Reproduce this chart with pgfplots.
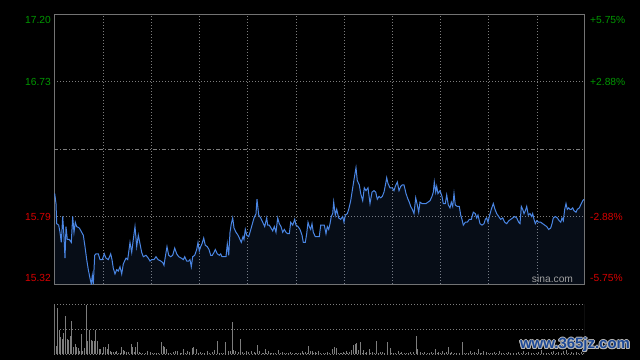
\documentclass[border=0pt]{standalone}
\usepackage{fontspec}
\setmainfont{Liberation Sans}
\usepackage{pgfplots}
\usepackage{pgfplotstable}
\pgfplotsset{compat=1.18}
\definecolor{gridc}{RGB}{125,125,125}
\definecolor{framec}{RGB}{115,115,115}
\definecolor{linec}{RGB}{74,134,228}
\definecolor{upc}{RGB}{0,150,0}
\definecolor{downc}{RGB}{215,0,0}
\definecolor{volc}{RGB}{125,125,125}
\definecolor{wmc}{RGB}{28,72,150}

\pgfplotstableread{
x y
54.7 15.95
56 15.88
56.7 15.74
58.7 15.73
60 15.68
61.3 15.61
62.7 15.79
64 15.65
65 15.50
66 15.72
67.3 15.63
69.3 15.63
71.3 15.61
72.7 15.79
74 15.68
75.3 15.75
76.7 15.72
79.3 15.71
81.7 15.68
83.3 15.66
85 15.58
86.7 15.49
88.3 15.42
90 15.36
91.3 15.32
92.3 15.38
93.3 15.32
94.7 15.52
96 15.53
98.3 15.53
100 15.49
102.3 15.49
104.3 15.53
106 15.50
108.3 15.49
110.7 15.53
112 15.49
113.3 15.43
115 15.39
116.7 15.42
118.3 15.41
120 15.44
121.7 15.39
123.3 15.46
126 15.50
127.7 15.49
130 15.61
131.7 15.54
133.3 15.63
135 15.72
136.7 15.58
138.3 15.66
140 15.60
141.7 15.54
143.3 15.51
146 15.52
148.3 15.50
150 15.48
151.7 15.49
154 15.49
156 15.51
158 15.49
160.7 15.48
162.7 15.47
164 15.45
165.3 15.51
167 15.58
168.7 15.52
170.7 15.51
172.7 15.52
174.7 15.57
176.7 15.53
178.7 15.51
181.3 15.50
183.3 15.49
184.7 15.51
186.7 15.48
188.7 15.48
190 15.49
191.3 15.44
192.7 15.51
194.7 15.52
196.7 15.56
198 15.61
199.3 15.55
200.7 15.58
202 15.60
203.7 15.64
205.3 15.59
207.3 15.58
209 15.56
210.7 15.52
212.3 15.52
214 15.54
215.3 15.56
217.3 15.53
219.3 15.52
220.7 15.53
222 15.51
224.7 15.51
226 15.51
227.3 15.60
228.7 15.52
230 15.68
231.3 15.74
232.7 15.78
234 15.71
236 15.68
238 15.66
240 15.63
241.3 15.61
243 15.65
244 15.63
245.3 15.70
246.7 15.66
248.7 15.65
250 15.68
252 15.73
254 15.78
256 15.81
257 15.91
258.7 15.80
260.7 15.78
262.7 15.75
264.7 15.72
266.7 15.78
267.7 15.73
269.3 15.73
271 15.71
272.7 15.69
274.3 15.72
276 15.68
277.7 15.78
279.3 15.74
281 15.72
282.7 15.68
284.3 15.70
286 15.68
287.7 15.67
289.3 15.67
290.7 15.75
292.7 15.73
294.7 15.77
296 15.73
298 15.72
300 15.70
302 15.66
303.3 15.61
305.3 15.61
306.7 15.67
308 15.75
309.3 15.72
310.7 15.70
312 15.74
313.3 15.68
315.3 15.65
317.7 15.65
319.3 15.65
320.7 15.73
322.7 15.73
324.3 15.73
326 15.67
327.3 15.72
328.7 15.70
330 15.74
331.3 15.79
332.7 15.81
333.7 15.89
335.3 15.80
336.7 15.84
338.7 15.78
340.7 15.77
342.7 15.79
344 15.75
345.3 15.80
347.3 15.81
348.7 15.84
350.7 15.90
352.7 15.99
354.3 16.06
356 16.13
357.3 16.04
359.3 16.01
360.7 15.95
362.7 15.90
364.3 15.99
366 15.97
368 15.99
370 15.88
372 15.96
374 15.97
375.7 15.96
377.3 15.91
379 15.93
380.7 15.92
382.3 15.93
384 15.96
385.7 16.02
386.7 16.06
388 16.02
390 15.99
392.3 15.99
394 15.97
395.3 16.00
397.3 16.03
399 15.97
400.7 16.00
402.3 16.01
404 16.01
406 15.95
408 15.91
409.3 15.89
410.7 15.86
412.3 15.84
414 15.81
415.7 15.92
417.3 15.87
418.7 15.82
420 15.89
422 15.88
424 15.88
426 15.88
428 15.89
430 15.90
432 15.93
433.3 15.96
434.3 16.03
435.7 15.96
436.7 16.00
438 15.95
440 15.97
442 15.93
443.3 15.88
445.3 15.88
446.7 15.94
448.3 15.87
450 15.85
451.3 15.89
452.7 15.86
454 15.95
455.3 15.87
457.3 15.86
459.3 15.86
460.7 15.80
462 15.77
463.3 15.73
465.3 15.75
467.3 15.75
469.3 15.77
471.3 15.77
473.3 15.82
475.3 15.81
476.7 15.78
478 15.80
480 15.74
482 15.73
484 15.74
485.3 15.77
486.7 15.78
488 15.75
489.3 15.79
491.3 15.84
493.3 15.88
495 15.84
496.7 15.81
498.7 15.79
500.7 15.77
502.7 15.78
504.7 15.75
506.7 15.74
508.7 15.76
510.7 15.77
512.7 15.78
514.7 15.79
516.7 15.78
518.7 15.75
520 15.74
521.3 15.86
522.7 15.84
524 15.81
525.3 15.83
526.7 15.86
528.3 15.80
530 15.81
531.7 15.79
532.7 15.81
534 15.77
535.3 15.74
536.7 15.76
538.7 15.75
540.7 15.75
542.7 15.74
544.7 15.73
546.7 15.72
548.7 15.70
550.7 15.71
552 15.74
553.3 15.78
555.3 15.79
557.3 15.78
559.3 15.76
560.7 15.75
562 15.78
563.3 15.76
564.7 15.84
566 15.88
567.3 15.84
568.7 15.85
570 15.84
571.3 15.84
572.7 15.85
574 15.83
576 15.82
577.3 15.84
579.3 15.85
581.3 15.88
582.7 15.90
584 15.91
}\price

\pgfplotstableread{
x v
54.7 25
56 8
57.3 46
59.3 24
60.3 17.6
62.3 15
63.3 21
65.3 38
67.3 15
68.7 14
70.3 18
71.3 33
73.3 7.6
75.3 10
76.7 7
78.3 6
79.3 3.6
81.3 20
82.3 3.6
84.3 6
86.3 49
87.3 13.6
89.3 24
91.3 14
92.7 13
94.3 13
95.7 24
97.3 13
99.3 5
100.7 5
102 1.5
103.3 7.6
105.7 7
107.3 5
108.3 10
110 3.6
111.3 2.6
113.3 2.6
115.3 2.6
116.7 3.6
118.7 1.3
120 1
121.3 7
123.3 4.3
124.3 3.6
126.7 2
128.7 2.3
131.3 10
132.7 7
134.7 2.6
135.7 7.6
137.3 12
139.3 2.6
140.7 1.6
142.7 1.3
145 1
147.3 3.6
150 2
152.3 1
154.7 1.3
156.7 1
158.7 1.3
161.3 12.7
163.3 8.3
164.7 7
166.7 5.6
168.7 1
170.7 1
173.3 2
175.3 3.3
177.3 3.3
180 1.3
181.7 1
183.3 5.3
185.3 1
187.3 3.3
189.3 2
192 6.3
193.3 7.3
196 5
198.3 1
200.7 2
202.3 1
204 1.3
207.3 3
209.7 1
212 2
214.3 4.3
217.3 13.3
219.3 1
221.3 1.3
223.3 1
225.3 12
228 3
230 3.6
232.3 32.3
233.3 4.3
235.3 3
238 2.3
240.3 15
242.7 2
244.3 1
246 3.3
248.7 2
251.7 3
254 2
255.7 1
257.3 9.3
259.3 3.3
262 1.3
263.7 1
265 5.3
266.7 1
268.3 3
270 1
271.7 1.3
273.3 1
275.3 1.3
278.3 4.3
280 1
282 2
284 1
286 1.3
288.3 1
290.7 2
292.7 1
295 1.3
296.7 1
298.7 1.3
300.3 1
302 3.3
303.7 1
305.3 2
307 1
308.3 8.3
310 3.3
312.3 3.3
313.7 1
315 2
316.7 1
318.3 3
320.3 1
323.3 1.3
325.3 1
327.3 2
329.7 1
332.3 5.3
334.3 7.3
336.3 6.3
338.3 1
340 1.3
341.7 1
343.3 2
344.7 1
346 3
347.7 1
349.3 2
351.3 4
353.3 9.3
355.3 10
356.7 11
358.3 4.3
360.3 12.3
362 1
363.3 4.3
365 1
366.7 2
369 5.3
370.7 1
372 2
374 1
376.3 13.3
378 1
380 2
382.7 2
384.7 1
387.3 12
390 6
391.7 1
393.3 1.3
395.5 1
398.3 3.3
400 1
401.7 2
404 1
406 1.3
408.3 1
410.7 2
413.3 2
416.3 18.3
417.7 5.3
420 2
422.3 1
424.7 2
427.3 1.3
429.7 1
431.7 2
433.3 1
435.3 5.3
437 1
438.7 2
440.7 1
442.7 3
444.3 1
446 2
448.3 7.3
450 1
451.7 2
454 1
456.7 1.3
459.3 1
462.3 12.3
464.3 1
466.7 1.3
468.3 1
470 3
472 1
474 2
476 1
478 5.3
480 1
481.7 1
483.3 3
486 2
488 1
490 1.3
492 1
494 2
496 1
499.3 3.3
501.3 1
503.3 1.3
506 1
508.3 2
510.5 1
513.3 1.3
516 1
518.5 2
521 1
523.5 3
526 1
528.5 2
531 1
533.5 1.5
536 1
538.5 2
541 4
543.5 1
546 1.5
548.5 1
551 2
553.5 3
556 1
558.5 2
561 1
563.5 3.5
566 4
568.5 1.5
571 2
573.5 1
576 2
578.5 1
581 2.5
583.5 1.5
}\volume

\begin{document}
\begin{tikzpicture}[x=1bp,y=1bp]
\fill[black] (0,0) rectangle (640,360);

% price panel
\begin{axis}[
  at={(54bp,76bp)}, anchor=south west,
  scale only axis, width=530bp, height=270bp,
  xmin=54, xmax=584, ymin=15.32, ymax=17.20,
  xtick={103,151.2,199.4,247.6,295.8,344,392.2,440.4,488.6,536.8},
  ytick={15.79,16.73},
  xticklabels={}, yticklabels={},
  major tick length=0pt,
  grid=major,
  grid style={gridc, line width=0.6bp, dash pattern=on 1bp off 2bp},
  extra y ticks={16.26}, extra y tick labels={},
  extra y tick style={major tick length=0pt, grid style={gridc, line width=0.6bp, dash pattern=on 4bp off 2bp on 1bp off 2bp}},
  axis line style={framec, line width=0.8bp},
  clip=true,
]
\addplot[draw=none, fill=linec, fill opacity=0.1] table[x=x,y=y] {\price} \closedcycle;
\addplot[linec, line width=1bp, mark=none] table[x=x,y=y] {\price};
\end{axis}

% volume panel
\begin{axis}[
  at={(54bp,5.7bp)}, anchor=south west,
  scale only axis, width=530bp, height=50bp,
  xmin=54, xmax=584, ymin=0, ymax=50,
  xtick=\empty,
  ytick={0,25,50}, yticklabels={},
  major tick length=0pt,
  ymajorgrids,
  grid style={gridc, line width=0.6bp, dash pattern=on 1bp off 2bp},
  axis line style={draw=none},
  clip=true,
]
\addplot[ycomb, volc, line width=0.9bp, mark=none] table[x=x,y=v] {\volume};
\draw[framec, line width=0.8bp] (rel axis cs:0,0) -- (rel axis cs:0,1);
\draw[framec, line width=0.8bp] (rel axis cs:1,0) -- (rel axis cs:1,1);
\end{axis}

% axis labels
\begin{scope}[every node/.style={font=\fontsize{10.3}{12}\selectfont, inner sep=0pt}]
\node[anchor=east, text=upc] at (51,340) {17.20};
\node[anchor=east, text=upc] at (51,278) {16.73};
\node[anchor=east, text=downc] at (51,143) {15.79};
\node[anchor=east, text=downc] at (51,81.7) {15.32};
\node[anchor=west, text=upc] at (590,340) {+5.75\%};
\node[anchor=west, text=upc] at (590,278) {+2.88\%};
\node[anchor=west, text=downc] at (590,143) {-2.88\%};
\node[anchor=west, text=downc] at (590,81.7) {-5.75\%};
\node[text=gray!75] at (552.5,80.7) {sina.com};
\end{scope}

% watermark (blue text with light outline)
\begin{scope}[every node/.style={font=\fontsize{15}{16}\bfseries\selectfont, inner sep=0pt}]
\foreach \dx/\dy in {-1/0,1/0,0/-1,0/1,-0.8/-0.8,0.8/0.8,-0.8/0.8,0.8/-0.8}{
  \node[text=gray!55] at (575+\dx,15+\dy) {www.365jz.com};
}
\node[text=wmc] at (575,15) {www.365jz.com};
\end{scope}
\end{tikzpicture}
\end{document}
